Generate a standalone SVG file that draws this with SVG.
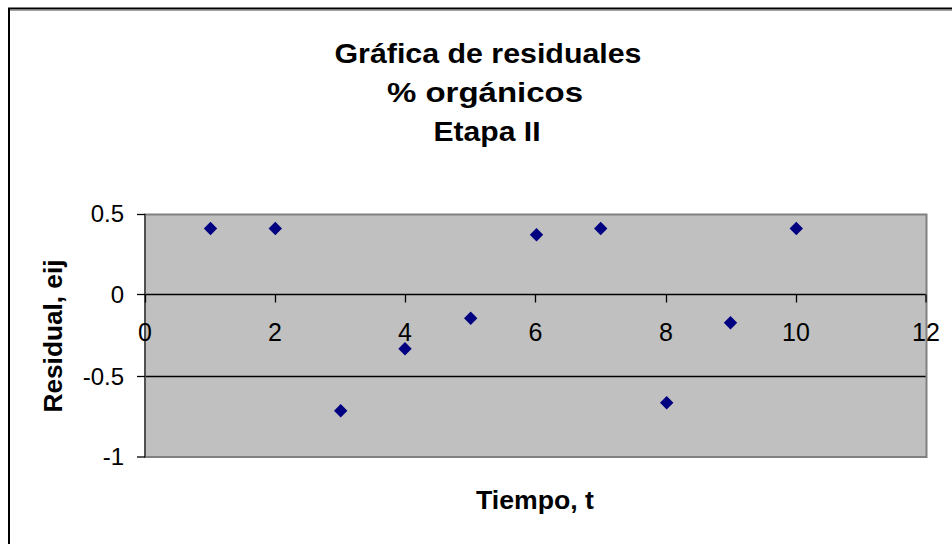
<svg xmlns="http://www.w3.org/2000/svg" xmlns:xlink="http://www.w3.org/1999/xlink" width="952" height="544" viewBox="0 0 952 544">
<style>
text{font-family:"Liberation Sans",Arial,sans-serif;fill:#000}
.title{font-size:28px;font-weight:bold;text-anchor:middle}
.axt{font-size:25px;font-weight:bold}
.yl{font-size:24px;text-anchor:end}
.xl{font-size:25px;text-anchor:middle}
.grid{stroke:#000;stroke-width:1.3;fill:none}
.tick{stroke:#000;stroke-width:1.3}
.pt{fill:#000080}
</style>
<defs>
<path id="d" d="M0,-6.7 L6.7,0 L0,6.7 L-6.7,0 Z"/>
</defs>
<rect x="0" y="0" width="952" height="544" fill="#fff"/>
<g id="frame">
<rect x="9" y="8.5" width="1000" height="600" fill="#fff" stroke="#000" stroke-width="2"/>
<line x1="10" y1="10.5" x2="952" y2="10.5" stroke="#a0a0a0" stroke-width="1"/>
</g>
<g id="title">
<text class="title" x="488" y="63" textLength="307" lengthAdjust="spacingAndGlyphs">Gráfica de residuales</text>
<text class="title" x="485" y="102" textLength="196" lengthAdjust="spacingAndGlyphs">% orgánicos</text>
<text class="title" x="487" y="141" textLength="107" lengthAdjust="spacingAndGlyphs">Etapa II</text>
</g>
<g id="plot">
<rect x="145" y="214.5" width="781.5" height="242.5" fill="#c0c0c0"/>
<line class="grid" x1="145" y1="294.5" x2="926.5" y2="294.5"/>
<line class="grid" x1="145" y1="376.5" x2="926.5" y2="376.5"/>
<rect x="145" y="214.5" width="781.5" height="242.5" fill="none" stroke="#808080" stroke-width="2"/>
<line x1="145" y1="214" x2="145" y2="457.5" stroke="#404040" stroke-width="1.5"/>
</g>
<g id="axes">
<line class="tick" x1="137" y1="214.5" x2="145" y2="214.5"/>
<line class="tick" x1="137" y1="294.5" x2="145" y2="294.5"/>
<line class="tick" x1="137" y1="376.5" x2="145" y2="376.5"/>
<line class="tick" x1="137" y1="457" x2="145" y2="457"/>
<line class="tick" x1="145.5" y1="294.5" x2="145.5" y2="302.5"/>
<line class="tick" x1="275.5" y1="294.5" x2="275.5" y2="302.5"/>
<line class="tick" x1="405.5" y1="294.5" x2="405.5" y2="302.5"/>
<line class="tick" x1="535.5" y1="294.5" x2="535.5" y2="302.5"/>
<line class="tick" x1="666.5" y1="294.5" x2="666.5" y2="302.5"/>
<line class="tick" x1="796.5" y1="294.5" x2="796.5" y2="302.5"/>
<line class="tick" x1="926" y1="294.5" x2="926" y2="302.5"/>
<text class="yl" x="124" y="222">0.5</text>
<text class="yl" x="124" y="302.5">0</text>
<text class="yl" x="124" y="384.5">-0.5</text>
<text class="yl" x="124" y="465">-1</text>
<text class="xl" x="145" y="340.5">0</text>
<text class="xl" x="275" y="340.5">2</text>
<text class="xl" x="405" y="340.5">4</text>
<text class="xl" x="535.5" y="340.5">6</text>
<text class="xl" x="666" y="340.5">8</text>
<text class="xl" x="796" y="340.5">10</text>
<text class="xl" x="926" y="340.5">12</text>
<text class="axt" x="535" y="509" text-anchor="middle" textLength="118" lengthAdjust="spacingAndGlyphs">Tiempo, t</text>
<text class="axt" transform="translate(62,336) rotate(-90)" text-anchor="middle" textLength="153" lengthAdjust="spacingAndGlyphs">Residual, eij</text>
</g>
<g id="points">
<use xlink:href="#d" class="pt" x="210.5" y="228.5"/>
<use xlink:href="#d" class="pt" x="275.3" y="228.5"/>
<use xlink:href="#d" class="pt" x="340.7" y="410.7"/>
<use xlink:href="#d" class="pt" x="405" y="348.7"/>
<use xlink:href="#d" class="pt" x="470.7" y="318.3"/>
<use xlink:href="#d" class="pt" x="536.5" y="234.7"/>
<use xlink:href="#d" class="pt" x="600.7" y="228.5"/>
<use xlink:href="#d" class="pt" x="666.7" y="402.7"/>
<use xlink:href="#d" class="pt" x="730.5" y="322.7"/>
<use xlink:href="#d" class="pt" x="796.3" y="228.5"/>
</g>
</svg>
